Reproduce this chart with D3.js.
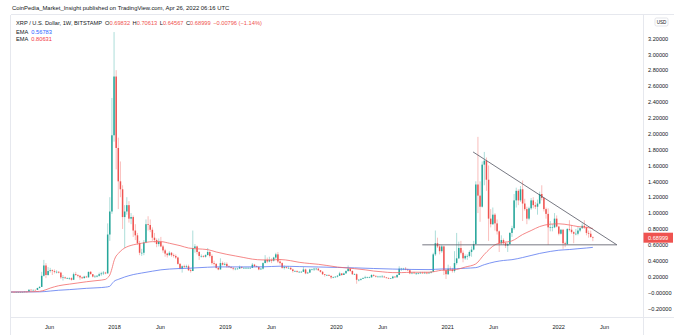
<!DOCTYPE html>
<html>
<head>
<meta charset="utf-8">
<script src="https://cdn.jsdelivr.net/npm/d3@7"></script>
<style>
  html, body { margin: 0; padding: 0; background: #ffffff; }
  svg { display: block; font-family: "Liberation Sans", Arial, sans-serif; }
</style>
</head>
<body>
<svg id="chart" width="674" height="335"></svg>
<script>
// XRP / USD weekly candles (Bitstamp), rows are [open, high, low, close]
const firstWeek = "2017-01-23";

const candles2017 = [
  [0.0063,0.0066,0.0061,0.0063],[0.0063,0.0065,0.0061,0.0063],[0.0063,0.0064,0.0060,0.0061],
  [0.0061,0.0064,0.0060,0.0063],[0.0063,0.0065,0.0061,0.0063],[0.0063,0.0070,0.0062,0.0069],
  [0.0069,0.0078,0.0066,0.0073],[0.0073,0.0110,0.0070,0.0100],[0.0100,0.0120,0.0085,0.0088],
  [0.0088,0.0400,0.0088,0.0340],[0.0340,0.0410,0.0280,0.0300],[0.0300,0.0340,0.0280,0.0330],
  [0.0330,0.0340,0.0300,0.0320],[0.0320,0.0600,0.0320,0.0560],[0.0560,0.0800,0.0500,0.0700],
  [0.0700,0.2600,0.0700,0.2100],[0.2100,0.4100,0.2000,0.3400],[0.3400,0.3700,0.1800,0.2200],
  [0.2200,0.3200,0.2100,0.2700],[0.2700,0.3100,0.2500,0.2800],[0.2800,0.2900,0.2200,0.2700],
  [0.2700,0.2900,0.2400,0.2600],[0.2600,0.2800,0.2400,0.2600],[0.2600,0.2700,0.2400,0.2500],
  [0.2500,0.2600,0.1700,0.1900],[0.1900,0.2200,0.1500,0.1900],[0.1900,0.2000,0.1700,0.1800],
  [0.1800,0.1900,0.1700,0.1800],[0.1800,0.1900,0.1600,0.1800],[0.1800,0.1900,0.1500,0.1600],
  [0.1600,0.2500,0.1600,0.2300],[0.2300,0.2600,0.2100,0.2200],[0.2200,0.2300,0.1900,0.2100],
  [0.2100,0.2200,0.1600,0.1900],[0.1900,0.2000,0.1700,0.1800],[0.1800,0.2100,0.1800,0.2000],
  [0.2000,0.2100,0.1900,0.1900],[0.1900,0.2600,0.1900,0.2600],[0.2600,0.2700,0.2300,0.2300],
  [0.2300,0.2300,0.1900,0.2000],[0.2000,0.2200,0.1900,0.2000],[0.2000,0.2200,0.1900,0.2100],
  [0.2100,0.2500,0.2000,0.2300],[0.2300,0.2600,0.2100,0.2400],[0.2400,0.2700,0.2200,0.2500],
  [0.2500,0.2600,0.2300,0.2400],[0.2400,0.8700,0.2400,0.7300],[0.7300,1.2000,0.6500,1.0200],
  [1.0200,2.4500,0.9900,1.9800]
];

const candles2018 = [
  [1.98,3.28,1.90,2.72],[2.72,2.80,1.55,1.82],[1.82,1.95,1.05,1.40],[1.40,1.65,1.20,1.30],
  [1.30,1.35,0.80,0.95],[0.95,1.10,0.56,1.02],[1.02,1.20,0.98,1.10],[1.10,1.15,0.88,0.93],
  [0.93,1.00,0.86,0.95],[0.95,0.97,0.70,0.78],[0.78,0.86,0.66,0.72],[0.72,0.75,0.60,0.62],
  [0.62,0.65,0.47,0.50],[0.50,0.55,0.46,0.50],[0.50,0.66,0.47,0.63],[0.63,0.92,0.62,0.86],
  [0.86,0.96,0.78,0.85],[0.85,0.92,0.76,0.79],[0.79,0.82,0.65,0.69],[0.69,0.75,0.63,0.66],
  [0.66,0.68,0.57,0.61],[0.61,0.68,0.58,0.64],[0.64,0.70,0.57,0.58],[0.58,0.60,0.50,0.53],
  [0.53,0.55,0.45,0.49],[0.49,0.50,0.44,0.47],[0.47,0.52,0.46,0.50],[0.50,0.51,0.45,0.47],
  [0.47,0.49,0.44,0.46],[0.46,0.48,0.42,0.44],[0.44,0.45,0.35,0.36],[0.36,0.37,0.29,0.30],
  [0.30,0.34,0.25,0.33],[0.33,0.35,0.31,0.32],[0.32,0.35,0.31,0.33],[0.33,0.35,0.27,0.28],
  [0.28,0.30,0.25,0.27],[0.27,0.78,0.27,0.56],[0.56,0.61,0.50,0.58],[0.58,0.59,0.48,0.51],
  [0.51,0.52,0.41,0.46],[0.46,0.48,0.44,0.46],[0.46,0.47,0.44,0.45],[0.45,0.48,0.44,0.47],
  [0.47,0.56,0.47,0.51],[0.51,0.52,0.44,0.46],[0.46,0.48,0.35,0.37],[0.37,0.40,0.34,0.36],
  [0.36,0.37,0.30,0.31],[0.31,0.32,0.28,0.29],[0.29,0.43,0.29,0.37],[0.37,0.39,0.34,0.35],
  [0.35,0.38,0.34,0.36]
];

const candles2019 = [
  [0.36,0.38,0.31,0.33],[0.33,0.34,0.31,0.32],[0.32,0.33,0.30,0.31],[0.31,0.32,0.28,0.30],
  [0.30,0.31,0.28,0.30],[0.30,0.31,0.29,0.30],[0.30,0.34,0.30,0.32],[0.32,0.33,0.30,0.31],
  [0.31,0.32,0.30,0.31],[0.31,0.32,0.30,0.31],[0.31,0.32,0.30,0.31],[0.31,0.32,0.30,0.31],
  [0.31,0.37,0.31,0.35],[0.35,0.36,0.32,0.33],[0.33,0.34,0.32,0.32],[0.32,0.33,0.28,0.29],
  [0.29,0.31,0.29,0.30],[0.30,0.38,0.29,0.37],[0.37,0.47,0.37,0.41],[0.41,0.44,0.37,0.39],
  [0.39,0.45,0.38,0.41],[0.41,0.43,0.37,0.40],[0.40,0.45,0.39,0.44],[0.44,0.50,0.42,0.48],
  [0.48,0.51,0.37,0.39],[0.39,0.42,0.35,0.37],[0.37,0.38,0.30,0.31],[0.31,0.34,0.29,0.32],
  [0.32,0.33,0.30,0.31],[0.31,0.33,0.30,0.31],[0.31,0.32,0.29,0.29],[0.29,0.30,0.25,0.27],
  [0.27,0.28,0.26,0.27],[0.27,0.28,0.25,0.26],[0.26,0.27,0.25,0.26],[0.26,0.27,0.25,0.26],
  [0.26,0.32,0.26,0.29],[0.29,0.30,0.23,0.24],[0.24,0.26,0.24,0.25],[0.25,0.30,0.25,0.29],
  [0.29,0.30,0.28,0.29],[0.29,0.31,0.27,0.30],[0.30,0.31,0.28,0.30],[0.30,0.31,0.27,0.28],
  [0.28,0.28,0.25,0.26],[0.26,0.27,0.22,0.23],[0.23,0.23,0.20,0.22],[0.22,0.23,0.21,0.22],
  [0.22,0.23,0.21,0.21],[0.21,0.21,0.17,0.19],[0.19,0.20,0.18,0.19],[0.19,0.20,0.19,0.20]
];

const candles2020 = [
  [0.20,0.22,0.19,0.21],[0.21,0.26,0.21,0.24],[0.24,0.24,0.21,0.22],[0.22,0.25,0.22,0.24],
  [0.24,0.28,0.24,0.27],[0.27,0.34,0.26,0.30],[0.30,0.31,0.26,0.27],[0.27,0.28,0.22,0.23],
  [0.23,0.24,0.22,0.23],[0.23,0.24,0.11,0.16],[0.16,0.17,0.14,0.16],[0.16,0.18,0.15,0.17],
  [0.17,0.19,0.17,0.18],[0.18,0.21,0.18,0.19],[0.19,0.20,0.18,0.19],[0.19,0.20,0.18,0.19],
  [0.19,0.23,0.19,0.22],[0.22,0.23,0.20,0.21],[0.21,0.21,0.19,0.20],[0.20,0.21,0.19,0.20],
  [0.20,0.21,0.19,0.20],[0.20,0.22,0.19,0.20],[0.20,0.21,0.19,0.19],[0.19,0.19,0.18,0.18],
  [0.18,0.19,0.17,0.175],[0.175,0.18,0.17,0.18],[0.18,0.21,0.17,0.20],[0.20,0.20,0.19,0.19],
  [0.19,0.23,0.19,0.22],[0.22,0.33,0.22,0.30],[0.30,0.31,0.27,0.30],[0.30,0.31,0.28,0.30],
  [0.30,0.32,0.28,0.29],[0.29,0.30,0.27,0.28],[0.28,0.29,0.23,0.24],[0.24,0.25,0.23,0.25],
  [0.25,0.26,0.24,0.24],[0.24,0.25,0.22,0.24],[0.24,0.25,0.23,0.24],[0.24,0.26,0.24,0.25],
  [0.25,0.26,0.24,0.24],[0.24,0.26,0.24,0.25],[0.25,0.26,0.23,0.24],[0.24,0.26,0.24,0.25],
  [0.25,0.27,0.24,0.26],[0.26,0.50,0.26,0.48],[0.48,0.78,0.46,0.62],[0.62,0.69,0.56,0.58],
  [0.58,0.61,0.48,0.52],[0.52,0.60,0.50,0.58],[0.58,0.59,0.22,0.28],[0.28,0.30,0.17,0.23]
];

const candles2021 = [
  [0.23,0.35,0.22,0.30],[0.30,0.33,0.27,0.29],[0.29,0.31,0.25,0.27],[0.27,0.52,0.25,0.37],
  [0.37,0.75,0.35,0.43],[0.43,0.64,0.42,0.56],[0.56,0.65,0.48,0.50],[0.50,0.53,0.38,0.43],
  [0.43,0.48,0.41,0.46],[0.46,0.48,0.41,0.46],[0.46,0.53,0.44,0.51],[0.51,0.58,0.45,0.54],
  [0.54,0.65,0.53,0.61],[0.61,1.40,0.60,1.36],[1.36,1.96,1.00,1.22],[1.22,1.40,0.89,1.08],
  [1.08,1.65,1.07,1.61],[1.61,1.77,1.35,1.66],[1.66,1.70,1.28,1.42],[1.42,1.60,0.65,0.93],
  [0.93,1.05,0.82,0.86],[0.86,1.07,0.85,0.98],[0.98,1.00,0.78,0.87],[0.87,0.92,0.73,0.77],
  [0.77,0.78,0.51,0.62],[0.62,0.72,0.60,0.66],[0.66,0.68,0.60,0.62],[0.62,0.64,0.56,0.59],
  [0.59,0.63,0.51,0.61],[0.61,0.76,0.60,0.75],[0.75,0.84,0.70,0.81],[0.81,1.24,0.79,1.16],
  [1.16,1.32,1.07,1.28],[1.28,1.30,1.10,1.16],[1.16,1.34,1.14,1.30],[1.30,1.41,0.90,1.12],
  [1.12,1.18,1.03,1.05],[1.05,1.08,0.86,0.93],[0.93,1.08,0.91,1.06],[1.06,1.19,1.04,1.16],
  [1.16,1.20,1.06,1.10],[1.10,1.14,1.05,1.08],[1.08,1.17,0.98,1.12],[1.12,1.27,1.11,1.24],
  [1.24,1.35,1.16,1.19],[1.19,1.20,1.02,1.05],[1.05,1.07,0.93,0.99],[0.99,1.06,0.60,0.82],
  [0.82,0.90,0.77,0.82],[0.82,0.86,0.77,0.82],[0.82,1.00,0.81,0.93],[0.93,0.97,0.82,0.83]
];

const candles2022 = [
  [0.83,0.84,0.72,0.74],[0.74,0.80,0.73,0.79],[0.79,0.80,0.55,0.62],[0.62,0.64,0.57,0.61],
  [0.61,0.81,0.60,0.80],[0.80,0.91,0.77,0.79],[0.79,0.85,0.74,0.76],[0.76,0.77,0.62,0.74],
  [0.74,0.80,0.72,0.74],[0.74,0.83,0.72,0.78],[0.78,0.82,0.76,0.81],[0.81,0.87,0.80,0.84],
  [0.84,0.91,0.80,0.82],[0.82,0.83,0.72,0.75],[0.75,0.78,0.69,0.74],[0.74,0.78,0.69,0.69832],
  [0.69832,0.70613,0.64567,0.68999]
];

// EMA (slow, blue) sampled along the series: [date, value]
const emaSlow = [
  ["2017-01-23",0.0070],["2017-05-01",0.0075],["2017-06-05",0.018],["2017-07-03",0.028],
  ["2017-08-07",0.036],["2017-09-04",0.044],["2017-10-02",0.052],["2017-11-06",0.059],
  ["2017-12-04",0.067],["2017-12-18",0.078],["2017-12-25",0.11],["2018-01-01",0.14],
  ["2018-01-15",0.165],["2018-02-05",0.195],["2018-03-05",0.225],["2018-04-02",0.245],
  ["2018-05-07",0.268],["2018-06-04",0.285],["2018-07-02",0.295],["2018-08-06",0.302],
  ["2018-09-03",0.305],["2018-10-01",0.311],["2018-11-05",0.318],["2018-12-03",0.322],
  ["2019-01-07",0.322],["2019-03-04",0.322],["2019-05-06",0.323],["2019-07-01",0.331],
  ["2019-09-02",0.326],["2019-11-04",0.321],["2020-01-06",0.315],["2020-03-02",0.310],
  ["2020-05-04",0.302],["2020-07-06",0.295],["2020-09-07",0.290],["2020-11-02",0.288],
  ["2020-12-14",0.296],["2021-01-04",0.296],["2021-02-01",0.299],["2021-03-01",0.305],
  ["2021-04-05",0.313],["2021-05-03",0.350],["2021-06-07",0.386],["2021-07-05",0.403],
  ["2021-08-02",0.413],["2021-09-06",0.440],["2021-10-04",0.466],["2021-11-01",0.492],
  ["2021-12-06",0.517],["2022-01-03",0.532],["2022-02-07",0.541],["2022-03-07",0.551],
  ["2022-04-04",0.560],["2022-04-25",0.56783]
];

// EMA (fast, red) sampled along the series: [date, value]
const emaFast = [
  ["2017-01-23",0.0063],["2017-03-06",0.0065],["2017-04-03",0.009],["2017-05-01",0.014],
  ["2017-05-22",0.035],["2017-06-05",0.055],["2017-07-03",0.085],["2017-08-07",0.105],
  ["2017-09-04",0.120],["2017-10-02",0.135],["2017-11-06",0.150],["2017-12-04",0.165],
  ["2017-12-11",0.187],["2017-12-18",0.220],["2017-12-25",0.300],["2018-01-01",0.400],
  ["2018-01-08",0.460],["2018-01-15",0.490],["2018-01-22",0.520],["2018-02-05",0.560],
  ["2018-03-05",0.600],["2018-04-02",0.620],["2018-05-07",0.640],["2018-06-04",0.640],
  ["2018-07-02",0.620],["2018-08-06",0.590],["2018-09-03",0.560],["2018-10-01",0.550],
  ["2018-11-05",0.540],["2018-12-03",0.510],["2019-01-07",0.480],["2019-02-04",0.460],
  ["2019-03-04",0.440],["2019-04-01",0.420],["2019-05-06",0.410],["2019-06-03",0.410],
  ["2019-07-01",0.415],["2019-08-05",0.400],["2019-09-02",0.380],["2019-10-07",0.365],
  ["2019-11-04",0.355],["2019-12-02",0.340],["2020-01-06",0.320],["2020-02-03",0.310],
  ["2020-03-02",0.300],["2020-04-06",0.285],["2020-05-04",0.270],["2020-06-01",0.260],
  ["2020-07-06",0.250],["2020-08-03",0.250],["2020-09-07",0.255],["2020-10-05",0.255],
  ["2020-11-02",0.255],["2020-11-23",0.265],["2020-12-14",0.280],["2021-01-04",0.280],
  ["2021-02-01",0.290],["2021-03-01",0.320],["2021-04-05",0.360],["2021-05-03",0.480],
  ["2021-06-07",0.600],["2021-07-05",0.630],["2021-08-02",0.650],["2021-09-06",0.730],
  ["2021-10-04",0.780],["2021-11-01",0.830],["2021-12-06",0.860],["2022-01-03",0.865],
  ["2022-02-07",0.850],["2022-03-07",0.830],["2022-04-04",0.820],["2022-04-25",0.80631]
];

// Drawn pattern: falling resistance and flat support, [date, price]
const resistanceLine = [["2021-03-27",1.77],["2022-07-13",0.60]];
const supportLine = [["2020-10-11",0.60],["2022-07-13",0.60]];

// Axis ticks
const yTicks = [-0.2,0,0.2,0.4,0.6,0.8,1.0,1.2,1.4,1.6,1.8,2.0,2.2,2.4,2.6,2.8,3.0,3.2];
const xTickDates = ["2017-06-01","2018-01-01","2018-06-01","2019-01-01","2019-06-01","2020-01-01",
                    "2020-06-01","2021-01-01","2021-06-01","2022-01-01","2022-06-01"];
const xTickLabels = ["Jun","2018","Jun","2019","Jun","2020","Jun","2021","Jun","2022","Jun"];

// Header values
const symbolTitle = "XRP / U.S. Dollar, 1W, BITSTAMP";
const ohlcLabels = ["O","H","L","C"];
const ohlcValues = ["0.69832","0.70613","0.64567","0.68999"];
const changeText = "\u22120.00796 (\u22121.14%)";
const emaLegend = [["EMA","0.56783","#2962ff"],["EMA","0.80631","#f23645"]];
const publishText = "CoinPedia_Market_Insight published on TradingView.com, Apr 26, 2022 06:16 UTC";
const lastPrice = 0.68999;

// ---------------------------------------------------------------
const parse = d3.utcParse("%Y-%m-%d");
const WEEK = 7 * 24 * 3600 * 1000;
const start = parse(firstWeek);
const candles = [candles2017, candles2018, candles2019, candles2020, candles2021, candles2022]
  .flat()
  .map((r, i) => ({ date: new Date(start.getTime() + i * WEEK), o: r[0], h: r[1], l: r[2], c: r[3] }));

const W = 674, H = 335;
const plot = { left: 11, right: 643, top: 15, bottom: 317 };

const x = d3.scaleUtc()
  .domain([parse("2017-01-27"), parse("2022-10-07")])
  .range([plot.left, plot.right]);
const y = d3.scaleLinear()
  .domain([-0.309, 3.495])
  .range([plot.bottom, plot.top]);

const UP = "#26a69a", DOWN = "#ef5350";
const svg = d3.select("#chart");

// frame
svg.append("rect").attr("x", 0).attr("y", 0).attr("width", W).attr("height", H).attr("fill", "#ffffff");
const frame = svg.append("g").attr("stroke", "#e6e8ee").attr("stroke-width", 1).attr("fill", "none");
frame.append("line").attr("x1", plot.left - 0.5).attr("x2", plot.left - 0.5).attr("y1", plot.top).attr("y2", H);
frame.append("line").attr("x1", plot.right + 0.5).attr("x2", plot.right + 0.5).attr("y1", plot.top).attr("y2", H);
frame.append("line").attr("x1", plot.left).attr("x2", W).attr("y1", plot.bottom + 0.5).attr("y2", plot.bottom + 0.5);
frame.append("line").attr("x1", plot.left).attr("x2", W).attr("y1", plot.top - 0.5).attr("y2", plot.top - 0.5);

svg.append("clipPath").attr("id", "plotClip")
  .append("rect").attr("x", plot.left).attr("y", plot.top)
  .attr("width", plot.right - plot.left).attr("height", plot.bottom - plot.top);

const area = svg.append("g").attr("clip-path", "url(#plotClip)");

// candles
const bodyW = 1.5;
const cg = area.append("g");
cg.selectAll("line.wick").data(candles).join("line")
  .attr("class", "wick")
  .attr("x1", d => x(d.date)).attr("x2", d => x(d.date))
  .attr("y1", d => y(d.h)).attr("y2", d => y(d.l))
  .attr("stroke", d => d.c >= d.o ? UP : DOWN)
  .attr("stroke-opacity", 0.55)
  .attr("stroke-width", 0.7);
cg.selectAll("rect.body").data(candles).join("rect")
  .attr("class", "body")
  .attr("x", d => x(d.date) - bodyW / 2)
  .attr("width", bodyW)
  .attr("y", d => y(Math.max(d.o, d.c)))
  .attr("height", d => Math.max(0.6, Math.abs(y(d.o) - y(d.c))))
  .attr("fill", d => d.c >= d.o ? UP : DOWN);

// EMA lines
const emaLine = d3.line()
  .x(d => x(parse(d[0])))
  .y(d => y(d[1]))
  .curve(d3.curveMonotoneX);
area.append("path").datum(emaSlow).attr("d", emaLine)
  .attr("fill", "none").attr("stroke", "#5a78f0").attr("stroke-width", 0.8);
area.append("path").datum(emaFast).attr("d", emaLine)
  .attr("fill", "none").attr("stroke", "#f26a6a").attr("stroke-width", 0.8);

// trend lines
const straight = d3.line().x(d => x(parse(d[0]))).y(d => y(d[1]));
[resistanceLine, supportLine].forEach(seg => {
  area.append("path").datum(seg).attr("d", straight)
    .attr("fill", "none").attr("stroke", "#5d606b").attr("stroke-width", 0.85);
});

// right price axis
const fmt = d3.format(".5f");
const yAxis = d3.axisRight(y)
  .tickValues(yTicks)
  .tickSize(0)
  .tickPadding(5)
  .tickFormat(v => Math.abs(v) < 1e-9 ? "\u2212" + fmt(0) : fmt(v));
const ya = svg.append("g").attr("transform", `translate(${plot.right},0)`).call(yAxis);
ya.select(".domain").remove();
ya.selectAll("text").attr("font-size", 5.6).attr("fill", "#131722")
  .attr("font-family", "Liberation Sans, Arial, sans-serif");

// bottom time axis
const xAxis = d3.axisBottom(x)
  .tickValues(xTickDates.map(parse))
  .tickFormat((d, i) => xTickLabels[i])
  .tickSize(0)
  .tickPadding(8);
const xa = svg.append("g").attr("transform", `translate(0,${plot.bottom})`).call(xAxis);
xa.select(".domain").remove();
xa.selectAll("text").attr("font-size", 5.6).attr("fill", "#131722")
  .attr("font-family", "Liberation Sans, Arial, sans-serif");

// last price marker
const py = y(lastPrice);
svg.append("rect").attr("x", plot.right + 0.5).attr("y", py - 5)
  .attr("width", W - plot.right - 1.5).attr("height", 10).attr("fill", DOWN);
svg.append("text").attr("x", plot.right + 5).attr("y", py + 2)
  .attr("font-size", 5.6).attr("fill", "#ffffff").text(d3.format(".5f")(lastPrice));

// currency badge
svg.append("rect").attr("x", 655).attr("y", 18).attr("width", 13).attr("height", 8).attr("rx", 1.5)
  .attr("fill", "#ffffff").attr("stroke", "#d1d4dc").attr("stroke-width", 0.6);
svg.append("text").attr("x", 661.5).attr("y", 24).attr("text-anchor", "middle")
  .attr("font-size", 4.6).attr("fill", "#131722").text("USD");

// header
const head = svg.append("g").attr("font-family", "Liberation Sans, Arial, sans-serif");
head.append("text").attr("x", 12).attr("y", 9.5).attr("font-size", 5.9).attr("fill", "#131722").text(publishText);

const row = head.append("text").attr("x", 16).attr("y", 24.6).attr("font-size", 5.7).attr("fill", "#131722");
row.append("tspan").text(symbolTitle);
ohlcLabels.forEach((lab, i) => {
  row.append("tspan").attr("dx", i === 0 ? 3 : 2.5).text(lab);
  row.append("tspan").attr("fill", DOWN).text(ohlcValues[i]);
});
row.append("tspan").attr("dx", 2.5).attr("fill", DOWN).text(changeText);

emaLegend.forEach((e, i) => {
  const t = head.append("text").attr("x", 16).attr("y", 33.6 + i * 7.4).attr("font-size", 5.7).attr("fill", "#131722");
  t.append("tspan").text(e[0]);
  t.append("tspan").attr("dx", 3).attr("fill", e[2]).text(e[1]);
});
</script>
</body>
</html>
